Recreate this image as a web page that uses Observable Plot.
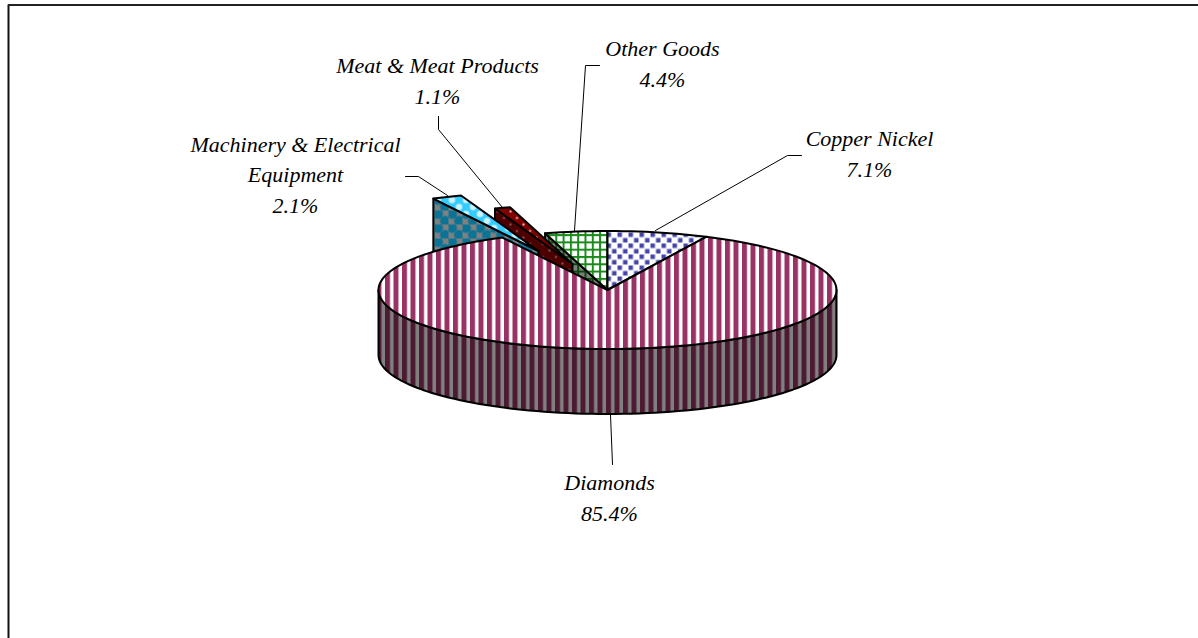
<!DOCTYPE html>
<html>
<head>
<meta charset="utf-8">
<style>html,body{margin:0;padding:0;background:#fff;overflow:hidden}</style>
<script src="https://cdn.jsdelivr.net/npm/d3@7"></script>
<script src="https://cdn.jsdelivr.net/npm/@observablehq/plot@0.6"></script>
</head>
<body>
<script>
// --- data ---
const categories = ["Copper Nickel", "Diamonds", "Machinery & Electrical\nEquipment", "Meat & Meat Products", "Other Goods"];
const shares = [7.1, 85.4, 2.1, 1.1, 4.4];

// --- layout (separate from the data) ---
const W = 1198, H = 638;
const pie = {cx: 607, cy: 289.5, rx: 229, ry: 59, depth: 65};
const explode = {
  "Machinery & Electrical\nEquipment": [-69, -39],
  "Meat & Meat Products": [-35, -26]
};
const labelPos = {
  "Copper Nickel": [869, 151],
  "Diamonds": [609, 495.5],
  "Machinery & Electrical\nEquipment": [295, 172],
  "Meat & Meat Products": [437, 78],
  "Other Goods": [662, 61.5]
};
const leaders = {
  "Copper Nickel": [[801, 155], [787, 155], [655, 230]],
  "Diamonds": [[610, 414], [612, 464]],
  "Machinery & Electrical\nEquipment": [[405, 176], [418, 176], [447, 195]],
  "Meat & Meat Products": [[438, 116], [438, 129], [502, 207]],
  "Other Goods": [[599, 65], [585, 65], [574, 230]]
};
const fills = {
  "Copper Nickel": {top: "url(#copperTop)"},
  "Diamonds": {top: "url(#diaTop)", wall: "url(#diaWall)"},
  "Machinery & Electrical\nEquipment": {top: "url(#machTop)", wall: "url(#machWall)"},
  "Meat & Meat Products": {top: "url(#meatTop)", wall: "url(#meatWall)"},
  "Other Goods": {top: "url(#otherTop)", wall: "url(#otherWall)"}
};

// --- geometry derived from the shares ---
const total = d3.sum(shares);
const rad = d => d * Math.PI / 180;
let cum = 0;
const slices = categories.map((name, i) => {
  const a0 = cum / total * 360;
  cum += shares[i];
  const a1 = cum / total * 360;
  const [dx, dy] = explode[name] || [0, 0];
  return {name, a0, a1, dx, dy, share: shares[i]};
});
const rim = (s, a, drop = 0) => ({
  x: pie.cx + s.dx + pie.rx * Math.sin(rad(a)),
  y: pie.cy + s.dy + drop - pie.ry * Math.cos(rad(a))
});
const apex = (s, drop = 0) => ({x: pie.cx + s.dx, y: pie.cy + s.dy + drop});
const arc = (s, a0, a1, drop = 0) => {
  const n = Math.max(2, Math.ceil(Math.abs(a1 - a0) / 2));
  return d3.range(n + 1).map(k => rim(s, a0 + (a1 - a0) * k / n, drop));
};
const topFace = s => [apex(s), ...arc(s, s.a0, s.a1)];
const cutFace = s => [rim(s, s.a0), apex(s), apex(s, pie.depth), rim(s, s.a0, pie.depth)];
const frontWall = s => [...arc(s, 90, 270), ...arc(s, 270, 90, pie.depth)];

const bySlice = Object.fromEntries(slices.map(s => [s.name, s]));
const [cu, dia, mach, meat, other] = categories.map(c => bySlice[c]);

const face = (pts, fill) => Plot.line(pts, {
  x: "x", y: "y", curve: "linear-closed", fill,
  stroke: "#000", strokeWidth: 2, strokeLinejoin: "round"
});

const leaderRows = categories.flatMap(name => leaders[name].map(([x, y]) => ({name, x, y})));
const labelRows = categories.map((name, i) => ({
  x: labelPos[name][0], y: labelPos[name][1],
  text: `${name}\n${shares[i].toFixed(1)}%`
}));

const chart = Plot.plot({
  width: W, height: H,
  margin: 0,
  x: {domain: [0, W], range: [0, W], axis: null},
  y: {domain: [0, H], range: [0, H], axis: null},
  marks: [
    Plot.ruleX([8], {y1: 4.5, y2: H, stroke: "#111", strokeWidth: 2}),
    Plot.ruleY([4.5], {x1: 8, x2: W, stroke: "#222", strokeWidth: 2}),

    face(cutFace(other), fills[other.name].wall),
    face(topFace(other), fills[other.name].top),
    face(cutFace(meat), fills[meat.name].wall),
    face(topFace(meat), fills[meat.name].top),
    face(cutFace(mach), fills[mach.name].wall),
    face(topFace(mach), fills[mach.name].top),
    face(topFace(cu), fills[cu.name].top),
    face(frontWall(dia), fills[dia.name].wall),
    face(topFace(dia), fills[dia.name].top),

    Plot.line(leaderRows, {x: "x", y: "y", z: "name", stroke: "#000", strokeWidth: 1}),
    Plot.text(labelRows, {
      x: "x", y: "y", text: "text", lineAnchor: "middle", lineHeight: 1.4,
      textAnchor: "middle", frameAnchor: "middle",
      fontFamily: "Liberation Serif", fontStyle: "italic", fontSize: 22, fill: "#000"
    })
  ]
});

// Hatch patterns used by the faces
const staggered = (id, size, bg, shape) => `<pattern id="${id}" width="${size}" height="${size}" patternUnits="userSpaceOnUse"><rect width="${size}" height="${size}" fill="${bg}"/>${shape}</pattern>`;
const stripes = (id, period, bg, fg, w, off) => `<pattern id="${id}" x="${off}" width="${period}" height="8" patternUnits="userSpaceOnUse"><rect width="${period}" height="8" fill="${bg}"/><rect width="${w}" height="8" fill="${fg}"/></pattern>`;
d3.select(chart).insert("defs", ":first-child").html([
  stripes("diaTop", 8.5, "#fff", "#993366", 5, 2),
  stripes("diaWall", 8.5, "#808080", "#4d1a33", 5, 2),
  staggered("copperTop", 11, "#fff",
    `<rect x="1" y="1" width="4.5" height="4.5" fill="#4444a8"/><rect x="6.5" y="6.5" width="4.5" height="4.5" fill="#4444a8"/>`),
  staggered("otherTop", 7.3, "#fff",
    `<rect width="7.3" height="2" fill="#1a8a1a"/><rect width="2" height="7.3" fill="#1a8a1a"/>`),
  staggered("otherWall", 7.3, "#808080",
    `<rect width="7.3" height="2" fill="#0a4a0a"/><rect width="2" height="7.3" fill="#0a4a0a"/>`),
  staggered("machTop", 14, "#33ccff",
    `<circle cx="3.5" cy="3.5" r="3.2" fill="#cdf3ff"/><circle cx="10.5" cy="10.5" r="3.2" fill="#cdf3ff"/>`),
  staggered("machWall", 14, "#808080",
    `<circle cx="3.5" cy="3.5" r="5" fill="#0a7396"/><circle cx="10.5" cy="10.5" r="5" fill="#0a7396"/>`),
  staggered("meatTop", 13, "#800000",
    `<circle cx="3" cy="3" r="1" fill="#fff"/><circle cx="9.5" cy="9.5" r="1" fill="#fff"/>`),
  staggered("meatWall", 13, "#4d0000",
    `<circle cx="3" cy="3" r="0.9" fill="#b08080"/><circle cx="9.5" cy="9.5" r="0.9" fill="#b08080"/>`)
].join(""));

document.body.appendChild(chart);
</script>
</body>
</html>
